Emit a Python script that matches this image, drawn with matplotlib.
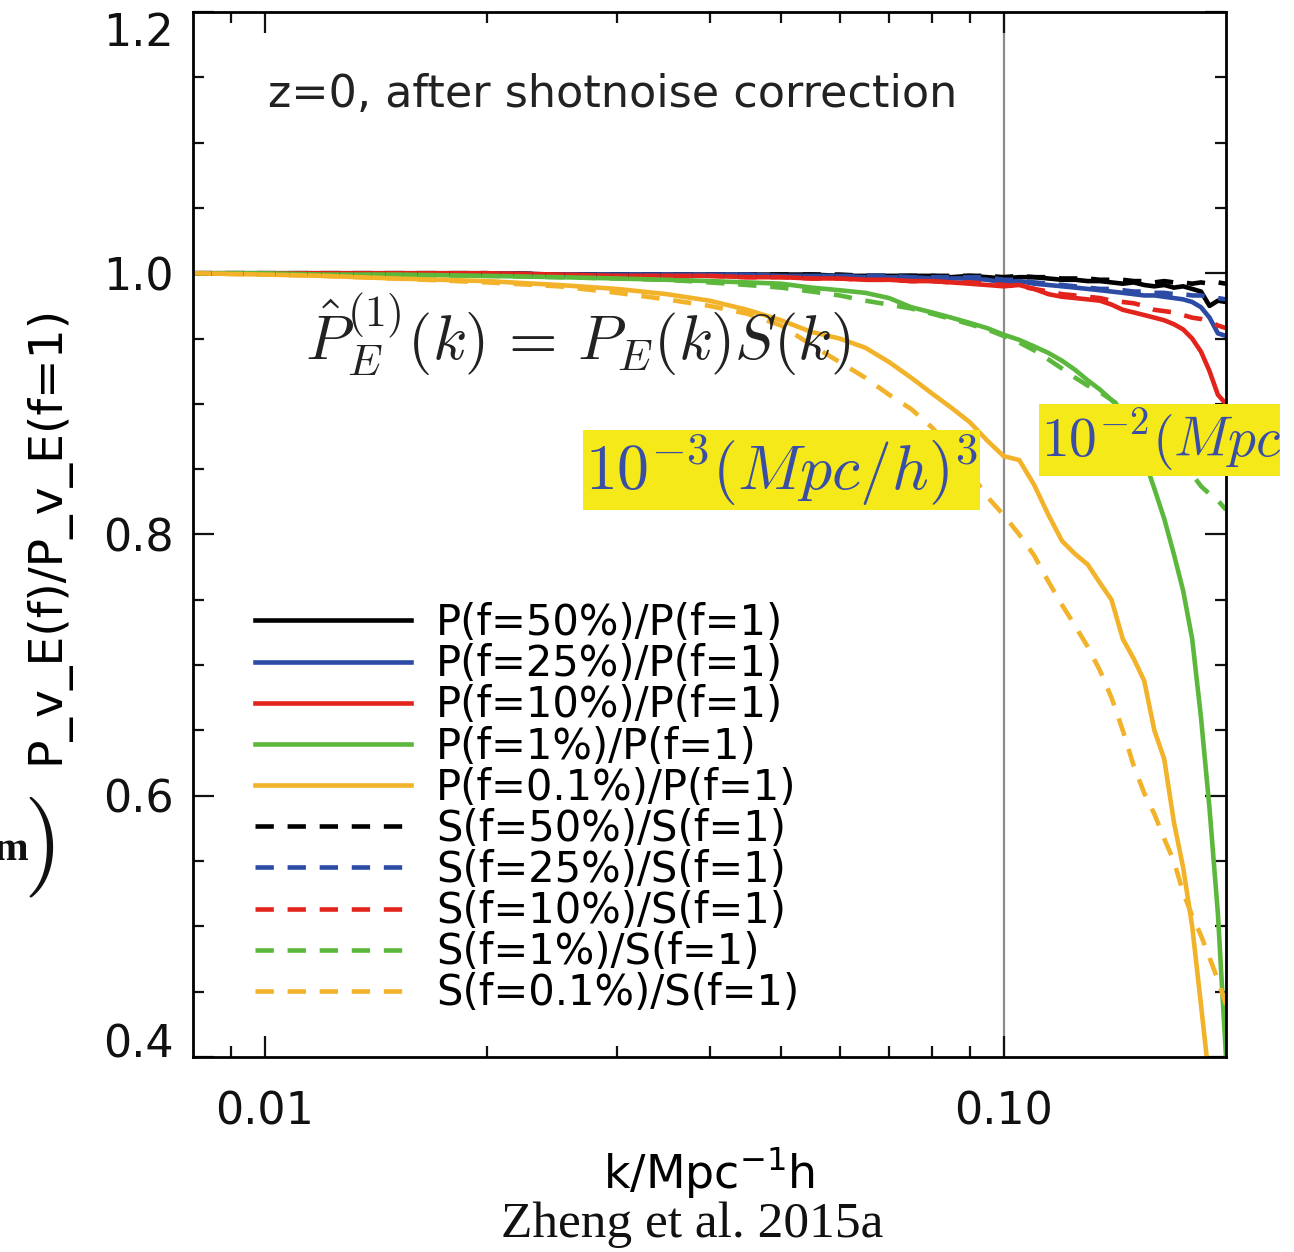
import matplotlib
matplotlib.use("Agg")
import matplotlib.pyplot as plt
from matplotlib.ticker import FixedLocator, MultipleLocator, NullFormatter
from matplotlib.transforms import Bbox, TransformedBbox

# k in h/Mpc
k = [0.008, 0.01, 0.012, 0.015, 0.02, 0.025, 0.03, 0.035, 0.04, 0.045,
     0.05, 0.055, 0.06, 0.065, 0.07, 0.075, 0.08, 0.085, 0.09, 0.095,
     0.10, 0.105, 0.11, 0.115, 0.12, 0.125, 0.13, 0.135, 0.14, 0.145,
     0.15, 0.155, 0.16, 0.165, 0.17, 0.175, 0.18, 0.185, 0.19, 0.195, 0.20]

# power spectrum ratios P(f)/P(f=1)
p50 = [1.000, 1.000, 1.000, 1.000, 1.000, 0.999, 0.999, 0.999, 0.999, 0.999,
       0.999, 0.999, 0.998, 0.998, 0.998, 0.998, 0.998, 0.997, 0.998, 0.997,
       0.996, 0.997, 0.997, 0.996, 0.995, 0.995, 0.994, 0.994, 0.993, 0.992,
       0.993, 0.991, 0.990, 0.991, 0.989, 0.990, 0.988, 0.986, 0.975, 0.979, 0.978]
p25 = [1.000, 1.000, 1.000, 1.000, 1.000, 0.999, 0.999, 0.999, 0.999, 0.999,
       0.998, 0.998, 0.998, 0.997, 0.997, 0.997, 0.996, 0.996, 0.996, 0.995,
       0.993, 0.994, 0.992, 0.991, 0.990, 0.989, 0.988, 0.987, 0.986, 0.985,
       0.984, 0.983, 0.983, 0.982, 0.981, 0.980, 0.978, 0.974, 0.966, 0.954, 0.952]
p10 = [1.000, 1.000, 1.000, 1.000, 1.000, 0.999, 0.998, 0.998, 0.998, 0.997,
       0.997, 0.996, 0.996, 0.995, 0.995, 0.994, 0.994, 0.993, 0.992, 0.991,
       0.990, 0.991, 0.988, 0.984, 0.982, 0.981, 0.980, 0.979, 0.976, 0.972,
       0.970, 0.968, 0.966, 0.964, 0.961, 0.957, 0.950, 0.940, 0.925, 0.907, 0.900]
p1 = [1.000, 1.000, 0.999, 0.999, 0.998, 0.997, 0.996, 0.995, 0.994, 0.993,
      0.992, 0.989, 0.987, 0.985, 0.981, 0.974, 0.970, 0.966, 0.962, 0.958,
      0.953, 0.949, 0.944, 0.939, 0.933, 0.926, 0.918, 0.911, 0.903, 0.895,
      0.877, 0.858, 0.835, 0.812, 0.785, 0.757, 0.720, 0.660, 0.590, 0.510, 0.400]
p01 = [1.000, 0.999, 0.998, 0.996, 0.994, 0.991, 0.988, 0.984, 0.979, 0.972,
       0.964, 0.955, 0.950, 0.943, 0.932, 0.920, 0.908, 0.897, 0.886, 0.872,
       0.860, 0.857, 0.838, 0.815, 0.795, 0.785, 0.777, 0.763, 0.750, 0.720,
       0.705, 0.688, 0.650, 0.628, 0.580, 0.545, 0.500, 0.440, 0.380, 0.330, 0.280]

# shot-noise factor ratios S(f)/S(f=1)
s50 = [1.000, 1.000, 1.000, 1.000, 1.000, 0.999, 0.999, 0.999, 0.999, 0.999,
       0.999, 0.999, 0.999, 0.998, 0.998, 0.998, 0.998, 0.998, 0.998, 0.998,
       0.997, 0.998, 0.997, 0.997, 0.996, 0.996, 0.996, 0.995, 0.995, 0.995,
       0.994, 0.994, 0.993, 0.994, 0.993, 0.993, 0.992, 0.993, 0.992, 0.993, 0.992]
s25 = [1.000, 1.000, 1.000, 1.000, 1.000, 0.999, 0.999, 0.999, 0.999, 0.999,
       0.998, 0.998, 0.998, 0.998, 0.998, 0.997, 0.997, 0.997, 0.997, 0.997,
       0.995, 0.995, 0.993, 0.992, 0.991, 0.990, 0.989, 0.988, 0.988, 0.987,
       0.986, 0.986, 0.985, 0.985, 0.984, 0.984, 0.983, 0.983, 0.982, 0.981, 0.980]
s10 = [1.000, 1.000, 1.000, 1.000, 1.000, 0.999, 0.998, 0.998, 0.998, 0.997,
       0.997, 0.996, 0.996, 0.995, 0.995, 0.994, 0.994, 0.993, 0.993, 0.992,
       0.991, 0.990, 0.988, 0.986, 0.984, 0.983, 0.982, 0.981, 0.979, 0.978,
       0.977, 0.975, 0.972, 0.971, 0.970, 0.968, 0.966, 0.965, 0.963, 0.960, 0.958]
s1 = [1.000, 1.000, 0.999, 0.999, 0.998, 0.997, 0.996, 0.995, 0.993, 0.991,
      0.989, 0.986, 0.983, 0.979, 0.976, 0.973, 0.969, 0.965, 0.961, 0.957,
      0.952, 0.947, 0.941, 0.934, 0.927, 0.920, 0.914, 0.909, 0.903, 0.897,
      0.889, 0.881, 0.873, 0.866, 0.859, 0.852, 0.846, 0.837, 0.831, 0.826, 0.819]
s01 = [1.000, 0.999, 0.998, 0.996, 0.993, 0.990, 0.985, 0.980, 0.975, 0.969,
       0.960, 0.945, 0.932, 0.920, 0.907, 0.896, 0.882, 0.866, 0.848, 0.829,
       0.815, 0.800, 0.784, 0.764, 0.746, 0.730, 0.714, 0.696, 0.675, 0.650,
       0.623, 0.602, 0.586, 0.567, 0.550, 0.526, 0.508, 0.493, 0.476, 0.459, 0.440]

fractions = ["50%", "25%", "10%", "1%", "0.1%"]
colors = ["#000000", "#2c4ba5", "#e3241c", "#5cb83c", "#f2b229"]
p_series = [p50, p25, p10, p1, p01]
s_series = [s50, s25, s10, s1, s01]

plt.rcParams["font.family"] = "DejaVu Sans"

fig = plt.figure(figsize=(12.94, 12.52), dpi=100)
ax = fig.add_axes([193 / 1294, 1 - 1057 / 1252, 1033 / 1294, 1045 / 1252])

for frac, col, vals in zip(fractions, colors, p_series):
    ax.plot(k, vals, color=col, lw=3.3, label="P(f=%s)/P(f=1)" % frac)
for frac, col, vals in zip(fractions, colors, s_series):
    ax.plot(k, vals, color=col, lw=3.3, dashes=(4.0, 3.0),
            label="S(f=%s)/S(f=1)" % frac)

ax.axvline(0.1, color="#8c8c8c", lw=1.6, zorder=0)

ax.set_xscale("log")
ax.set_xlim(0.008, 0.2)
ax.set_ylim(0.4, 1.2)

ax.xaxis.set_major_locator(FixedLocator([0.01, 0.1]))
ax.set_xticklabels(["0.01", "0.10"])
ax.xaxis.set_minor_locator(FixedLocator([0.009, 0.02, 0.03, 0.04, 0.05,
                                         0.06, 0.07, 0.08, 0.09]))
ax.xaxis.set_minor_formatter(NullFormatter())
ax.yaxis.set_major_locator(MultipleLocator(0.2))
ax.yaxis.set_minor_locator(MultipleLocator(0.05))
ax.set_yticks([0.4, 0.6, 0.8, 1.0, 1.2])
ax.set_yticklabels(["0.4", "0.6", "0.8", "1.0", "1.2"])

ax.tick_params(which="both", direction="in", top=True, right=True,
               width=1.6, labelsize=32, colors="#111111")
ax.tick_params(which="major", length=15)
ax.tick_params(which="minor", length=8)
ax.tick_params(axis="y", pad=14)
ax.tick_params(axis="x", pad=24)
for sp in ax.spines.values():
    sp.set_linewidth(2.0)

ylabs = ax.get_yticklabels()
ylabs[-1].set_va("top")
ylabs[0].set_va("baseline")

ax.set_ylabel("P_v_E(f)/P_v_E(f=1)", fontsize=34)
ax.yaxis.set_label_coords(-0.12, 0.5)
ax.set_xlabel("k/Mpc$^{-1}$h", fontsize=33)
ax.xaxis.set_label_coords(0.5, -0.085)

ax.text(268 / 1294, 1 - 107 / 1252, "z=0, after shotnoise correction",
        transform=fig.transFigure, fontsize=32, color="#222222",
        ha="left", va="baseline")

leg = ax.legend(loc="upper left", bbox_to_anchor=(255 / 1294, 1 - 602 / 1252),
                bbox_transform=fig.transFigure, frameon=False, fontsize=30,
                handlelength=3.75, handletextpad=0.6, labelspacing=-0.02,
                borderpad=0, borderaxespad=0)

# annotations from the slide
fig.text(305 / 1294, 1 - 360 / 1252, r"$\hat{P}_E^{(1)}(k) \,=\, P_E(k)S(k)$",
         fontsize=45, color="#222222", math_fontfamily="cm",
         ha="left", va="baseline")

fig.text(585 / 1294, 1 - 470 / 1252, r"$10^{-3}(Mpc/h)^3$",
         fontsize=46, color="#3a4ea6", math_fontfamily="cm",
         ha="left", va="center",
         bbox=dict(boxstyle="square,pad=0.03", fc="#f6e91a", ec="none"))

t2 = fig.text(1041 / 1294, 1 - 440 / 1252, r"$10^{-2}(Mpc/h)^3$",
              fontsize=40, color="#3a4ea6", math_fontfamily="cm",
              ha="left", va="center",
              bbox=dict(boxstyle="square,pad=0.03", fc="#f6e91a", ec="none"))
t2.set_clip_on(True)
t2.set_clip_box(TransformedBbox(Bbox([[0, 0], [1280 / 1294, 1]]), fig.transFigure))

# cropped fragment of a neighbouring label on the slide
fig.text(29 / 1294, 1 - 860 / 1252, "m", fontsize=30, fontweight="bold",
         family="Liberation Serif", ha="right", va="baseline", color="#111111")
fig.text(23 / 1294, 1 - 847 / 1252, r"$)$", fontsize=72, math_fontfamily="cm",
         ha="left", va="center", color="#111111")

fig.text(692 / 1294, 1 - 1225 / 1252, "Zheng et al. 2015a", fontsize=37,
         family="Liberation Serif", ha="center", va="center", color="#111111")

fig.savefig("out.png", dpi=100)
